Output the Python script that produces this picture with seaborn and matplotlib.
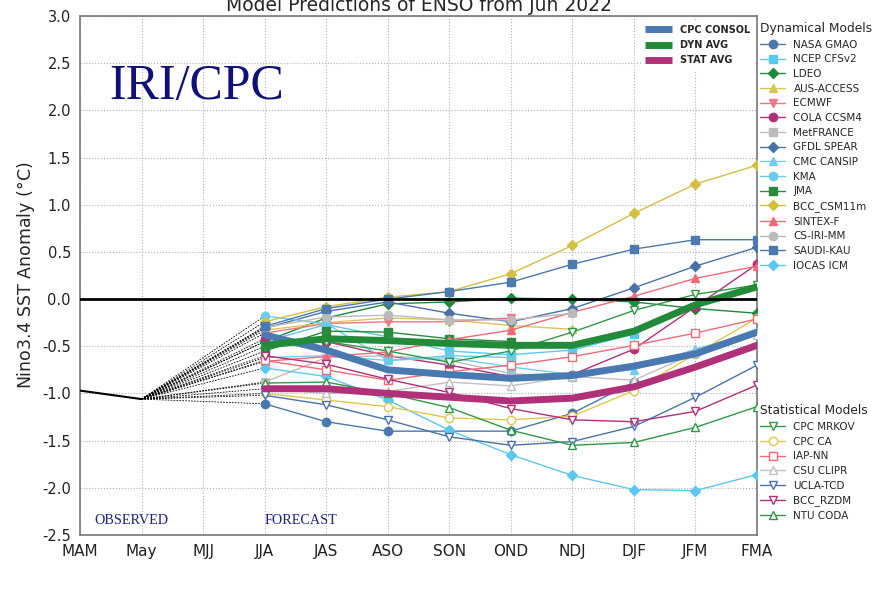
import matplotlib
matplotlib.use("Agg")
import matplotlib.pyplot as plt
from matplotlib.lines import Line2D
import numpy as np
import pandas as pd
import seaborn as sns

seasons = ["MAM", "May", "MJJ", "JJA", "JAS", "ASO", "SON", "OND", "NDJ", "DJF", "JFM", "FMA"]
fcst_seasons = seasons[3:]

observed = [-0.97, -1.06]

# dynamical models, JJA .. FMA (None = no forecast)
nasa_gmao = [-1.11, -1.30, -1.40, -1.40, -1.40, -1.21, -0.88, None, None]
ncep_cfsv2 = [-0.45, -0.27, -0.40, -0.55, -0.59, -0.54, -0.37, None, None]
ldeo = [-0.45, -0.20, -0.05, -0.03, 0.01, 0.0, -0.03, -0.10, -0.15]
aus_access = [-0.33, -0.25, -0.20, -0.22, -0.28, -0.32, None, None, None]
ecmwf = [-0.36, -0.26, -0.24, -0.24, -0.20, None, None, None, None]
cola_ccsm4 = [-0.42, -0.45, -0.60, -0.70, -0.82, -0.80, -0.53, -0.08, 0.37]
metfrance = [-0.88, -0.62, -0.60, -0.65, -0.79, -0.83, None, None, None]
gfdl_spear = [-0.31, -0.13, -0.03, -0.15, -0.24, -0.10, 0.12, 0.35, 0.55]
cmc_cansip = [-0.62, -0.60, -0.65, -0.62, -0.72, -0.80, -0.75, -0.53, -0.35]
kma = [-0.18, -0.26, -0.65, -0.60, -0.62, None, None, None, None]
jma = [-0.55, -0.34, -0.35, -0.42, -0.45, None, None, None, None]
bcc_csm11m = [-0.24, -0.08, 0.02, 0.08, 0.27, 0.57, 0.91, 1.22, 1.42]
sintex_f = [-0.66, -0.61, -0.56, -0.43, -0.33, -0.14, 0.03, 0.22, 0.35]
cs_iri_mm = [-0.30, -0.19, -0.17, -0.22, -0.22, -0.15, None, None, None]
saudi_kau = [-0.29, -0.10, 0.0, 0.08, 0.18, 0.37, 0.53, 0.63, 0.63]
iocas_icm = [-0.73, -0.82, -1.07, -1.39, -1.65, -1.87, -2.02, -2.03, -1.86]

# statistical models
cpc_mrkov = [-0.50, -0.45, -0.55, -0.67, -0.55, -0.35, -0.12, 0.05, 0.15]
cpc_ca = [-1.00, -1.07, -1.14, -1.26, -1.28, -1.24, -0.97, -0.58, -0.20]
iap_nn = [-0.65, -0.75, -0.86, -0.77, -0.70, -0.61, -0.49, -0.36, -0.21]
csu_clipr = [-0.95, -1.00, -0.98, -0.88, -0.92, -0.82, -0.86, -0.57, -0.38]
ucla_tcd = [-1.02, -1.12, -1.28, -1.46, -1.55, -1.51, -1.35, -1.04, -0.70]
bcc_rzdm = [-0.60, -0.69, -0.85, -0.99, -1.16, -1.28, -1.30, -1.19, -0.91]
ntu_coda = [-0.89, -0.88, -1.00, -1.15, -1.39, -1.55, -1.52, -1.36, -1.14]

# averages
cpc_consol = [-0.38, -0.54, -0.75, -0.80, -0.84, -0.81, -0.71, -0.58, -0.35]
dyn_avg = [-0.49, -0.42, -0.44, -0.47, -0.49, -0.49, -0.34, -0.06, 0.13]
stat_avg = [-0.95, -0.95, -1.00, -1.04, -1.08, -1.05, -0.93, -0.72, -0.49]

dynamical = [
    ("NASA GMAO", nasa_gmao, "#4a78b0", "o"),
    ("NCEP CFSv2", ncep_cfsv2, "#5bc8ef", "s"),
    ("LDEO", ldeo, "#1e8a3c", "D"),
    ("AUS-ACCESS", aus_access, "#d8c658", "^"),
    ("ECMWF", ecmwf, "#f07888", "v"),
    ("COLA CCSM4", cola_ccsm4, "#b0307a", "o"),
    ("MetFRANCE", metfrance, "#bdbdbd", "s"),
    ("GFDL SPEAR", gfdl_spear, "#4a72a8", "D"),
    ("CMC CANSIP", cmc_cansip, "#72cdee", "^"),
    ("KMA", kma, "#6ccaf0", "o"),
    ("JMA", jma, "#2a8a3e", "s"),
    ("BCC_CSM11m", bcc_csm11m, "#d4c040", "D"),
    ("SINTEX-F", sintex_f, "#f06a7a", "^"),
    ("CS-IRI-MM", cs_iri_mm, "#bbbbbb", "o"),
    ("SAUDI-KAU", saudi_kau, "#4a7ab0", "s"),
    ("IOCAS ICM", iocas_icm, "#5cc8f0", "D"),
]
statistical = [
    ("CPC MRKOV", cpc_mrkov, "#2e9a48", "v"),
    ("CPC CA", cpc_ca, "#e0c850", "o"),
    ("IAP-NN", iap_nn, "#f06a7a", "s"),
    ("CSU CLIPR", csu_clipr, "#c0c0c0", "^"),
    ("UCLA-TCD", ucla_tcd, "#4a72b0", "v"),
    ("BCC_RZDM", bcc_rzdm, "#b0307a", "v"),
    ("NTU CODA", ntu_coda, "#2e9a48", "^"),
]
averages = [
    ("CPC CONSOL", cpc_consol, "#4a78b0"),
    ("DYN AVG", dyn_avg, "#228b3a"),
    ("STAT AVG", stat_avg, "#b0307a"),
]

sns.set_style("white")
plt.rcParams["font.family"] = ["DejaVu Sans"]

fig = plt.figure(figsize=(8.77, 5.99), dpi=100)
ax = fig.add_axes([0.0912, 0.107, 0.772, 0.866])

xpos = {s: i for i, s in enumerate(seasons)}
fx = [xpos[s] for s in fcst_seasons]

# dashed lines from the last observation to each model start
for name, vals, color, mk in dynamical + statistical:
    ax.plot([1, fx[0]], [observed[1], vals[0]], color="black", lw=0.6,
            ls=(0, (2, 1.5)), zorder=2)


def draw_model(vals, color, mk, filled):
    df = pd.DataFrame({"x": fx, "y": vals}).dropna()
    sns.lineplot(data=df, x="x", y="y", ax=ax, color=color, lw=1.0,
                 marker=mk, markersize=6 if mk != "D" else 5.5,
                 markerfacecolor=color if filled else "white",
                 markeredgecolor=color, markeredgewidth=1.0, zorder=3)


for name, vals, color, mk in dynamical:
    draw_model(vals, color, mk, True)
for name, vals, color, mk in statistical:
    draw_model(vals, color, mk, False)

for name, vals, color in averages:
    df = pd.DataFrame({"x": fx, "y": vals})
    sns.lineplot(data=df, x="x", y="y", ax=ax, color=color, lw=5, zorder=4)

obs_df = pd.DataFrame({"x": [0, 1], "y": observed})
sns.lineplot(data=obs_df, x="x", y="y", ax=ax, color="black", lw=1.5, zorder=5)

ax.axhline(0, color="black", lw=2, zorder=4)

ax.set_xlim(0, len(seasons) - 1)
ax.set_ylim(-2.5, 3.0)
ax.set_xticks(range(len(seasons)))
ax.set_xticklabels(seasons, family=["Liberation Sans Narrow", "DejaVu Sans Condensed", "DejaVu Sans"],
                   fontsize=11)
ax.set_yticks(np.arange(-2.5, 3.01, 0.5))
ax.set_yticklabels([f"{v:.1f}" for v in np.arange(-2.5, 3.01, 0.5)], fontsize=10.5)
ax.grid(True, color="#b0b0b0", ls=":", lw=0.8)
ax.set_xlabel("")
ax.set_ylabel("Nino3.4 SST Anomaly ($\\degree$C)", fontsize=12.5)
ax.tick_params(axis="both", which="major", length=3, color="#555555", labelcolor="#222222")
for sp in ax.spines.values():
    sp.set_color("#777777")
    sp.set_linewidth(1.2)

ax.set_title("Model Predictions of ENSO from Jun 2022", fontsize=13.5, pad=4)

ax.text(0.48, 2.25, "IRI/CPC", family="Liberation Serif", fontsize=36, color="#10107a",
        va="center", ha="left")
ax.text(0.24, -2.35, "OBSERVED", family="Liberation Serif", fontsize=10.2, color="#20208a",
        va="center", ha="left")
ax.text(3.0, -2.35, "FORECAST", family="Liberation Serif", fontsize=10.2, color="#20208a",
        va="center", ha="left")

# legends
avg_handles = [Line2D([], [], color=c, lw=5, solid_capstyle="butt") for n, v, c in averages]
leg_avg = ax.legend(avg_handles, [n for n, v, c in averages], loc="upper right",
                    bbox_to_anchor=(0.998, 0.995), frameon=True, facecolor="white",
                    edgecolor="white", framealpha=1, handlelength=2.8,
                    labelspacing=0.55, borderaxespad=0.2,
                    prop={"weight": "bold", "size": 7})
ax.add_artist(leg_avg)

dyn_handles = [Line2D([], [], color=c, lw=1, marker=m, markersize=6 if m != "D" else 5.5,
                      markerfacecolor=c, markeredgecolor=c) for n, v, c, m in dynamical]
leg_dyn = ax.legend(dyn_handles, [n for n, v, c, m in dynamical], loc="upper left",
                    bbox_to_anchor=(1.0, 0.995), frameon=False, fontsize=7.5,
                    title="Dynamical Models", title_fontsize=8.8, handlelength=2.4,
                    labelspacing=0.45, borderaxespad=0.1, borderpad=0.2, alignment="left")
ax.add_artist(leg_dyn)

stat_handles = [Line2D([], [], color=c, lw=1, marker=m, markersize=6,
                       markerfacecolor="white", markeredgecolor=c) for n, v, c, m in statistical]
leg_stat = ax.legend(stat_handles, [n for n, v, c, m in statistical], loc="upper left",
                     bbox_to_anchor=(1.0, 0.258), frameon=False, fontsize=7.5,
                     title="Statistical Models", title_fontsize=8.8, handlelength=2.4,
                     labelspacing=0.45, borderaxespad=0.1, borderpad=0.2, alignment="left")

fig.savefig("out.png", dpi=100)
